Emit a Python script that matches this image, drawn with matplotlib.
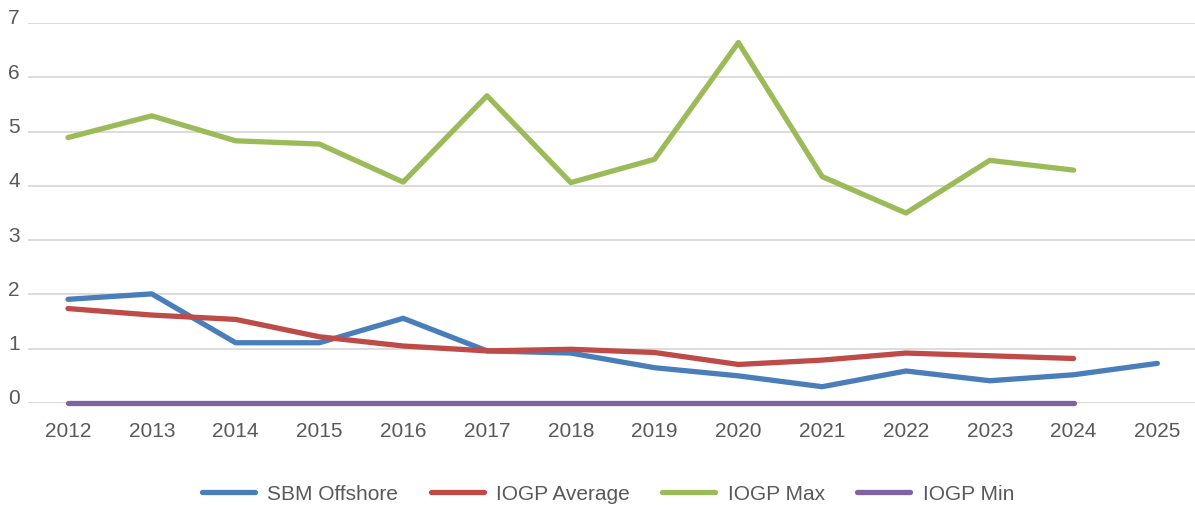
import matplotlib
matplotlib.use("Agg")
import matplotlib.pyplot as plt
import matplotlib.transforms as mtransforms

years = ["2012", "2013", "2014", "2015", "2016", "2017", "2018", "2019",
         "2020", "2021", "2022", "2023", "2024", "2025"]
sbm_offshore = [1.91, 2.01, 1.11, 1.11, 1.56, 0.96, 0.92, 0.65, 0.50, 0.30, 0.59, 0.41, 0.52, 0.73]
iogp_average = [1.74, 1.62, 1.54, 1.22, 1.05, 0.96, 0.99, 0.93, 0.71, 0.79, 0.92, 0.87, 0.82]
iogp_max = [4.89, 5.29, 4.83, 4.77, 4.07, 5.66, 4.06, 4.49, 6.64, 4.17, 3.50, 4.47, 4.29]
iogp_min = [0, 0, 0, 0, 0, 0, 0, 0, 0, 0, 0, 0, 0]
y_ticks = [0, 1, 2, 3, 4, 5, 6, 7]

plt.rcParams['font.family'] = ['Liberation Sans', 'DejaVu Sans']

W, H = 1195, 505
fig = plt.figure(figsize=(W / 100, H / 100), dpi=100)
left_px, right_px, top_px, bottom_px = 28, 1195, 23, 403
ax = fig.add_axes([left_px / W, 1 - bottom_px / H, (right_px - left_px) / W, (bottom_px - top_px) / H])

series = [
    ("SBM Offshore", sbm_offshore, "#4A7EBB"),
    ("IOGP Average", iogp_average, "#BE4B48"),
    ("IOGP Max", iogp_max, "#9BBB59"),
    ("IOGP Min", iogp_min, "#7F63A1"),
]
for name, vals, col in series:
    ax.plot(range(len(vals)), vals, color=col, lw=3.8, solid_capstyle="round",
            solid_joinstyle="round", label=name, zorder=3, clip_on=False)

step = 83.8
x0_px = 68
ax.set_xlim(-(x0_px - left_px) / step, (right_px - x0_px) / step)
ax.set_ylim(0, 7)
ax.set_xticks(range(len(years)))
ax.set_xticklabels(years)
ax.set_yticks(y_ticks)
ax.grid(axis="y", color="#D9D9D9", lw=1.3, zorder=0)
ax.set_axisbelow(True)
for s in ax.spines.values():
    s.set_visible(False)
ax.tick_params(axis="both", length=0, labelsize=15, colors="#595959")
ax.tick_params(axis="y", pad=6)
ax.tick_params(axis="x", pad=14)

offset = mtransforms.ScaledTranslation(0, 6 / 100, fig.dpi_scale_trans)
for lbl in ax.get_yticklabels():
    lbl.set_transform(lbl.get_transform() + offset)

leg = fig.legend(loc="center", bbox_to_anchor=(608 / W, 1 - 494 / H), ncol=4,
                 frameon=False, fontsize=15, handlelength=2.55, handletextpad=0.6,
                 columnspacing=1.55)
for t in leg.get_texts():
    t.set_color("#595959")

fig.savefig("out.png", dpi=100, facecolor="white")
